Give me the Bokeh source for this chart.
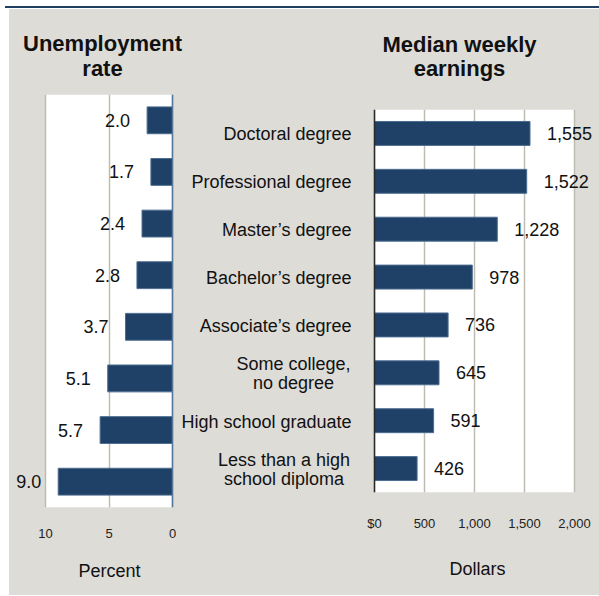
from bokeh.plotting import figure
from bokeh.models import (ColumnDataSource, FactorRange, Range1d, FixedTicker,
                          LabelSet, Label, Span, Div, Spacer, BoxAnnotation)
from bokeh.core.properties import value
from bokeh.layouts import row, column
from bokeh.embed import file_html
from bokeh.resources import INLINE

# ---------------- data ----------------
categories = ["Doctoral degree", "Professional degree", "Master\u2019s degree",
              "Bachelor\u2019s degree", "Associate\u2019s degree",
              "Some college,\nno degree", "High school graduate",
              "Less than a high\nschool diploma"]
unemployment = [2.0, 1.7, 2.4, 2.8, 3.7, 5.1, 5.7, 9.0]
earnings = [1555, 1522, 1228, 978, 736, 645, 591, 426]
unemp_ticks = [10, 5, 0]
earn_ticks = [0, 500, 1000, 1500, 2000]
earn_tick_labels = ["$0", "500", "1,000", "1,500", "2,000"]
unemp_max = 10
earn_max = 2000

# ---------------- style ----------------
FONT = "Liberation Sans"
BG = "#dddcd7"
BAR = "#1f4167"
BAR_EDGE = "#4d6d90"
GRID = "#bcbcb3"
TXT = "#111111"
BLUE_LINE = "#1f3f63"

factors = list(reversed(categories))

src_l = ColumnDataSource(dict(cat=categories, val=unemployment,
                              lbl=[f"{v:.1f}" for v in unemployment]))
src_r = ColumnDataSource(dict(cat=categories, val=earnings,
                              lbl=[f"{v:,}" for v in earnings]))

COMMON = dict(output_backend="svg", toolbar_location=None, title=None,
              outline_line_color=None, border_fill_color=BG,
              background_fill_color=BG)


def style_xaxis(p, standoff):
    ax = p.xaxis[0]
    ax.axis_line_color = None
    ax.major_tick_out = 0
    ax.major_tick_in = 0
    ax.minor_tick_out = 0
    ax.minor_tick_in = 0
    ax.major_label_standoff = standoff
    ax.major_label_text_font = FONT
    ax.major_label_text_font_size = "13px"
    ax.major_label_text_color = "#222222"


def bare(p):
    p.xaxis.visible = False
    p.yaxis.visible = False
    p.xgrid.visible = False
    p.ygrid.visible = False


# ---------------- header (titles) ----------------
head = figure(width=590, height=75, x_range=Range1d(0, 590), y_range=Range1d(0, 75),
              min_border=0, **COMMON)
bare(head)
for txt, xx, yy in [("Unemployment", 93, 41), ("rate", 93, 16),
                    ("Median weekly", 450, 40), ("earnings", 450, 16)]:
    head.add_layout(Label(x=xx, y=yy, x_units="screen", y_units="screen",
                          text=txt, text_align="center", text_baseline="alphabetic",
                          text_font=FONT, text_font_size="22px",
                          text_font_style="bold", text_color=TXT))

# ---------------- left: unemployment ----------------
fl = figure(width=167, height=463, x_range=Range1d(12.835, -0.315),
            y_range=FactorRange(factors=factors),
            min_border_left=0, min_border_right=0,
            min_border_top=10, min_border_bottom=40, **COMMON)
fl.add_layout(BoxAnnotation(left=unemp_max, right=0, fill_color="white",
                            fill_alpha=1, line_color=None, level="image"))
fl.hbar(y="cat", left=0, right="val", height=0.52, source=src_l,
        fill_color=BAR, line_color=BAR_EDGE, line_width=1)
fl.yaxis.visible = False
fl.ygrid.visible = False
fl.xaxis.ticker = FixedTicker(ticks=unemp_ticks)
fl.xgrid.ticker = FixedTicker(ticks=unemp_ticks)
fl.xgrid.grid_line_color = GRID
fl.xgrid.grid_line_width = 1.5
style_xaxis(fl, 21)
fl.add_layout(Span(location=0, dimension="height", line_color="#56779c",
                   line_width=1.5))
fl.add_layout(LabelSet(x="val", y="cat", text="lbl", source=src_l,
                       x_offset=-17, text_align="right", text_baseline="middle",
                       text_font=value(FONT), text_font_size="18px",
                       text_color=TXT))

# ---------------- middle: category labels ----------------
MID_W = 180
fm = figure(width=MID_W, height=434, x_range=Range1d(0, MID_W),
            y_range=FactorRange(factors=factors),
            min_border_left=0, min_border_right=0,
            min_border_top=10, min_border_bottom=40, **COMMON)
bare(fm)
single = [c for c in categories if "\n" not in c]
multi = [c for c in categories if "\n" in c]
multi_x = {"Some college,\nno degree": 117,
           "Less than a high\nschool diploma": 107.5}
fm.text(x=[175] * len(single), y=single, text=single, text_align="right",
        text_baseline="middle", text_font=value(FONT), text_font_size="18px",
        text_color=TXT)
fm.text(x=[multi_x[c] for c in multi], y=multi, text=multi, text_align="center",
        text_baseline="middle", text_font=value(FONT), text_font_size="18px",
        text_color=TXT, text_line_height=0.95)

# ---------------- right: earnings ----------------
RIGHT_W = 590 - 167 - MID_W
fr = figure(width=RIGHT_W, height=434, x_range=Range1d(-180, 2250),
            y_range=FactorRange(factors=factors),
            min_border_left=0, min_border_right=0,
            min_border_top=10, min_border_bottom=40, **COMMON)
fr.add_layout(BoxAnnotation(left=0, right=earn_max, fill_color="white",
                            fill_alpha=1, line_color=None, level="image"))
fr.hbar(y="cat", left=0, right="val", height=0.5, source=src_r,
        fill_color=BAR, line_color=BAR_EDGE, line_width=1)
fr.yaxis.visible = False
fr.ygrid.visible = False
fr.xaxis.ticker = FixedTicker(ticks=earn_ticks)
fr.xaxis.major_label_overrides = dict(zip(earn_ticks, earn_tick_labels))
fr.xgrid.ticker = FixedTicker(ticks=earn_ticks)
fr.xgrid.grid_line_color = GRID
fr.xgrid.grid_line_width = 1.5
style_xaxis(fr, 23)
fr.add_layout(Span(location=0, dimension="height", line_color="#2a2a2a",
                   line_width=1.5))
fr.add_layout(LabelSet(x="val", y="cat", text="lbl", source=src_r,
                       x_offset=17, text_align="left", text_baseline="middle",
                       text_font=value(FONT), text_font_size="18px",
                       text_color=TXT))

# ---------------- footer (axis titles) ----------------
foot = figure(width=590, height=48, x_range=Range1d(0, 590), y_range=Range1d(0, 48),
              min_border=0, **COMMON)
bare(foot)
for txt, xx, yy in [("Percent", 100, 25), ("Dollars", 468, 27)]:
    foot.add_layout(Label(x=xx, y=yy, x_units="screen", y_units="screen",
                          text=txt, text_align="center", text_baseline="middle",
                          text_font=FONT, text_font_size="18px", text_color=TXT))


def gray(w, h):
    return Div(text="", width=w, height=h, margin=0,
               styles={"background-color": BG})


mid_col = column(gray(MID_W, 15), fm, gray(MID_W, 14), spacing=0,
                 styles={"background-color": BG})
right_col = column(gray(RIGHT_W, 15), fr, gray(RIGHT_W, 14), spacing=0,
                   styles={"background-color": BG})
charts = row(fl, mid_col, right_col, spacing=0,
             styles={"background-color": BG})
body = column(head, charts, foot, spacing=0,
              styles={"background-color": BG})

topline = row(Spacer(width=5, height=2, margin=0),
              Div(text="", width=594, height=2, margin=0,
                  styles={"background-color": BLUE_LINE}), spacing=0)
page = column(Spacer(width=599, height=6, margin=0), topline,
              Spacer(width=599, height=1, margin=0),
              row(Spacer(width=9, height=586, margin=0), body, spacing=0),
              spacing=0)

open("out.html", "w").write(file_html(page, INLINE))
